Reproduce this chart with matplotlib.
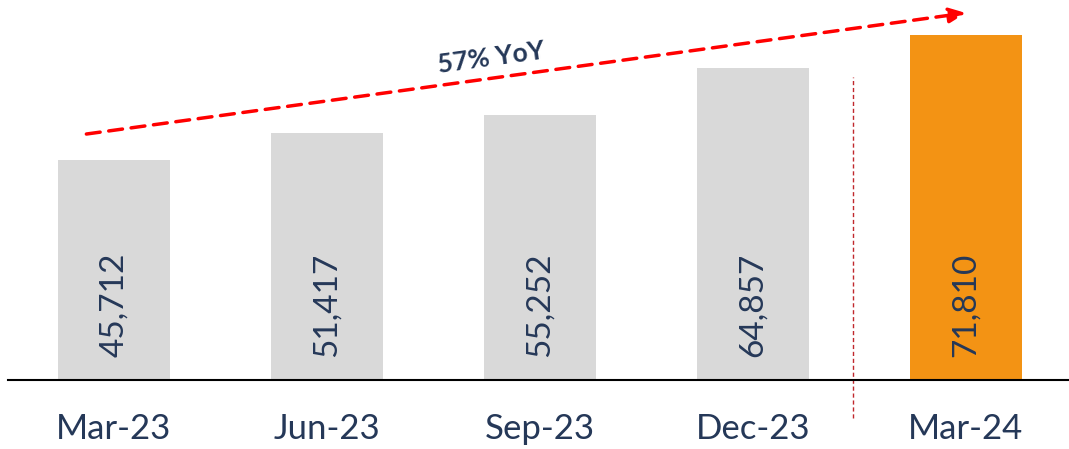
import numpy as np
import matplotlib.pyplot as plt

quarters = ['Mar-23', 'Jun-23', 'Sep-23', 'Dec-23', 'Mar-24']
values = [45712, 51417, 55252, 64857, 71810]
bar_colors = ['#D9D9D9', '#D9D9D9', '#D9D9D9', '#D9D9D9', '#F39314']
growth_label = '57% YoY'

navy = '#253858'
plt.rcParams['font.family'] = ['Lato', 'DejaVu Sans']

fig = plt.figure(figsize=(10.69, 4.49), dpi=100)
ax = fig.add_axes([8 / 1069, 69 / 449, 1 - 8 / 1069, 380 / 449])

x = np.arange(len(quarters))
ax.bar(x, values, width=0.526, color=bar_colors, zorder=2)
ax.set_xlim(-0.498, 4.484)
ax.set_ylim(0, 79100)

# value labels inside bars, rotated
for xi, v in zip(x, values):
    ax.text(xi, 4800, f'{v:,}', rotation=90, ha='center', va='bottom',
            fontsize=24, color=navy, zorder=3)

ax.set_xticks(x)
ax.set_xticklabels(quarters, fontsize=25, color=navy)
ax.tick_params(axis='x', length=0, pad=24)
ax.set_yticks([])
for s in ['top', 'right', 'left']:
    ax.spines[s].set_visible(False)
ax.spines['bottom'].set_linewidth(1.5)
ax.spines['bottom'].set_zorder(4)

# separator between history and latest quarter
ax.plot([3.47, 3.47], [-7900, 63000], color='#C0282D', lw=1,
        ls=(0, (3, 2)), clip_on=False, zorder=1)

# growth arrow
ax.annotate('', xy=(4.0, 76400), xytext=(-0.13, 51200),
            arrowprops=dict(arrowstyle='-|>,head_length=1.0,head_width=0.45',
                            color='#FF0000', lw=2.5, ls=(0, (4, 2.5)),
                            shrinkA=0, shrinkB=0),
            annotation_clip=False)
ax.text(1.77, 67000, growth_label, rotation=7.8, ha='center', va='center',
        fontsize=19, fontweight='bold', color=navy)

fig.savefig('out.png', dpi=100)
